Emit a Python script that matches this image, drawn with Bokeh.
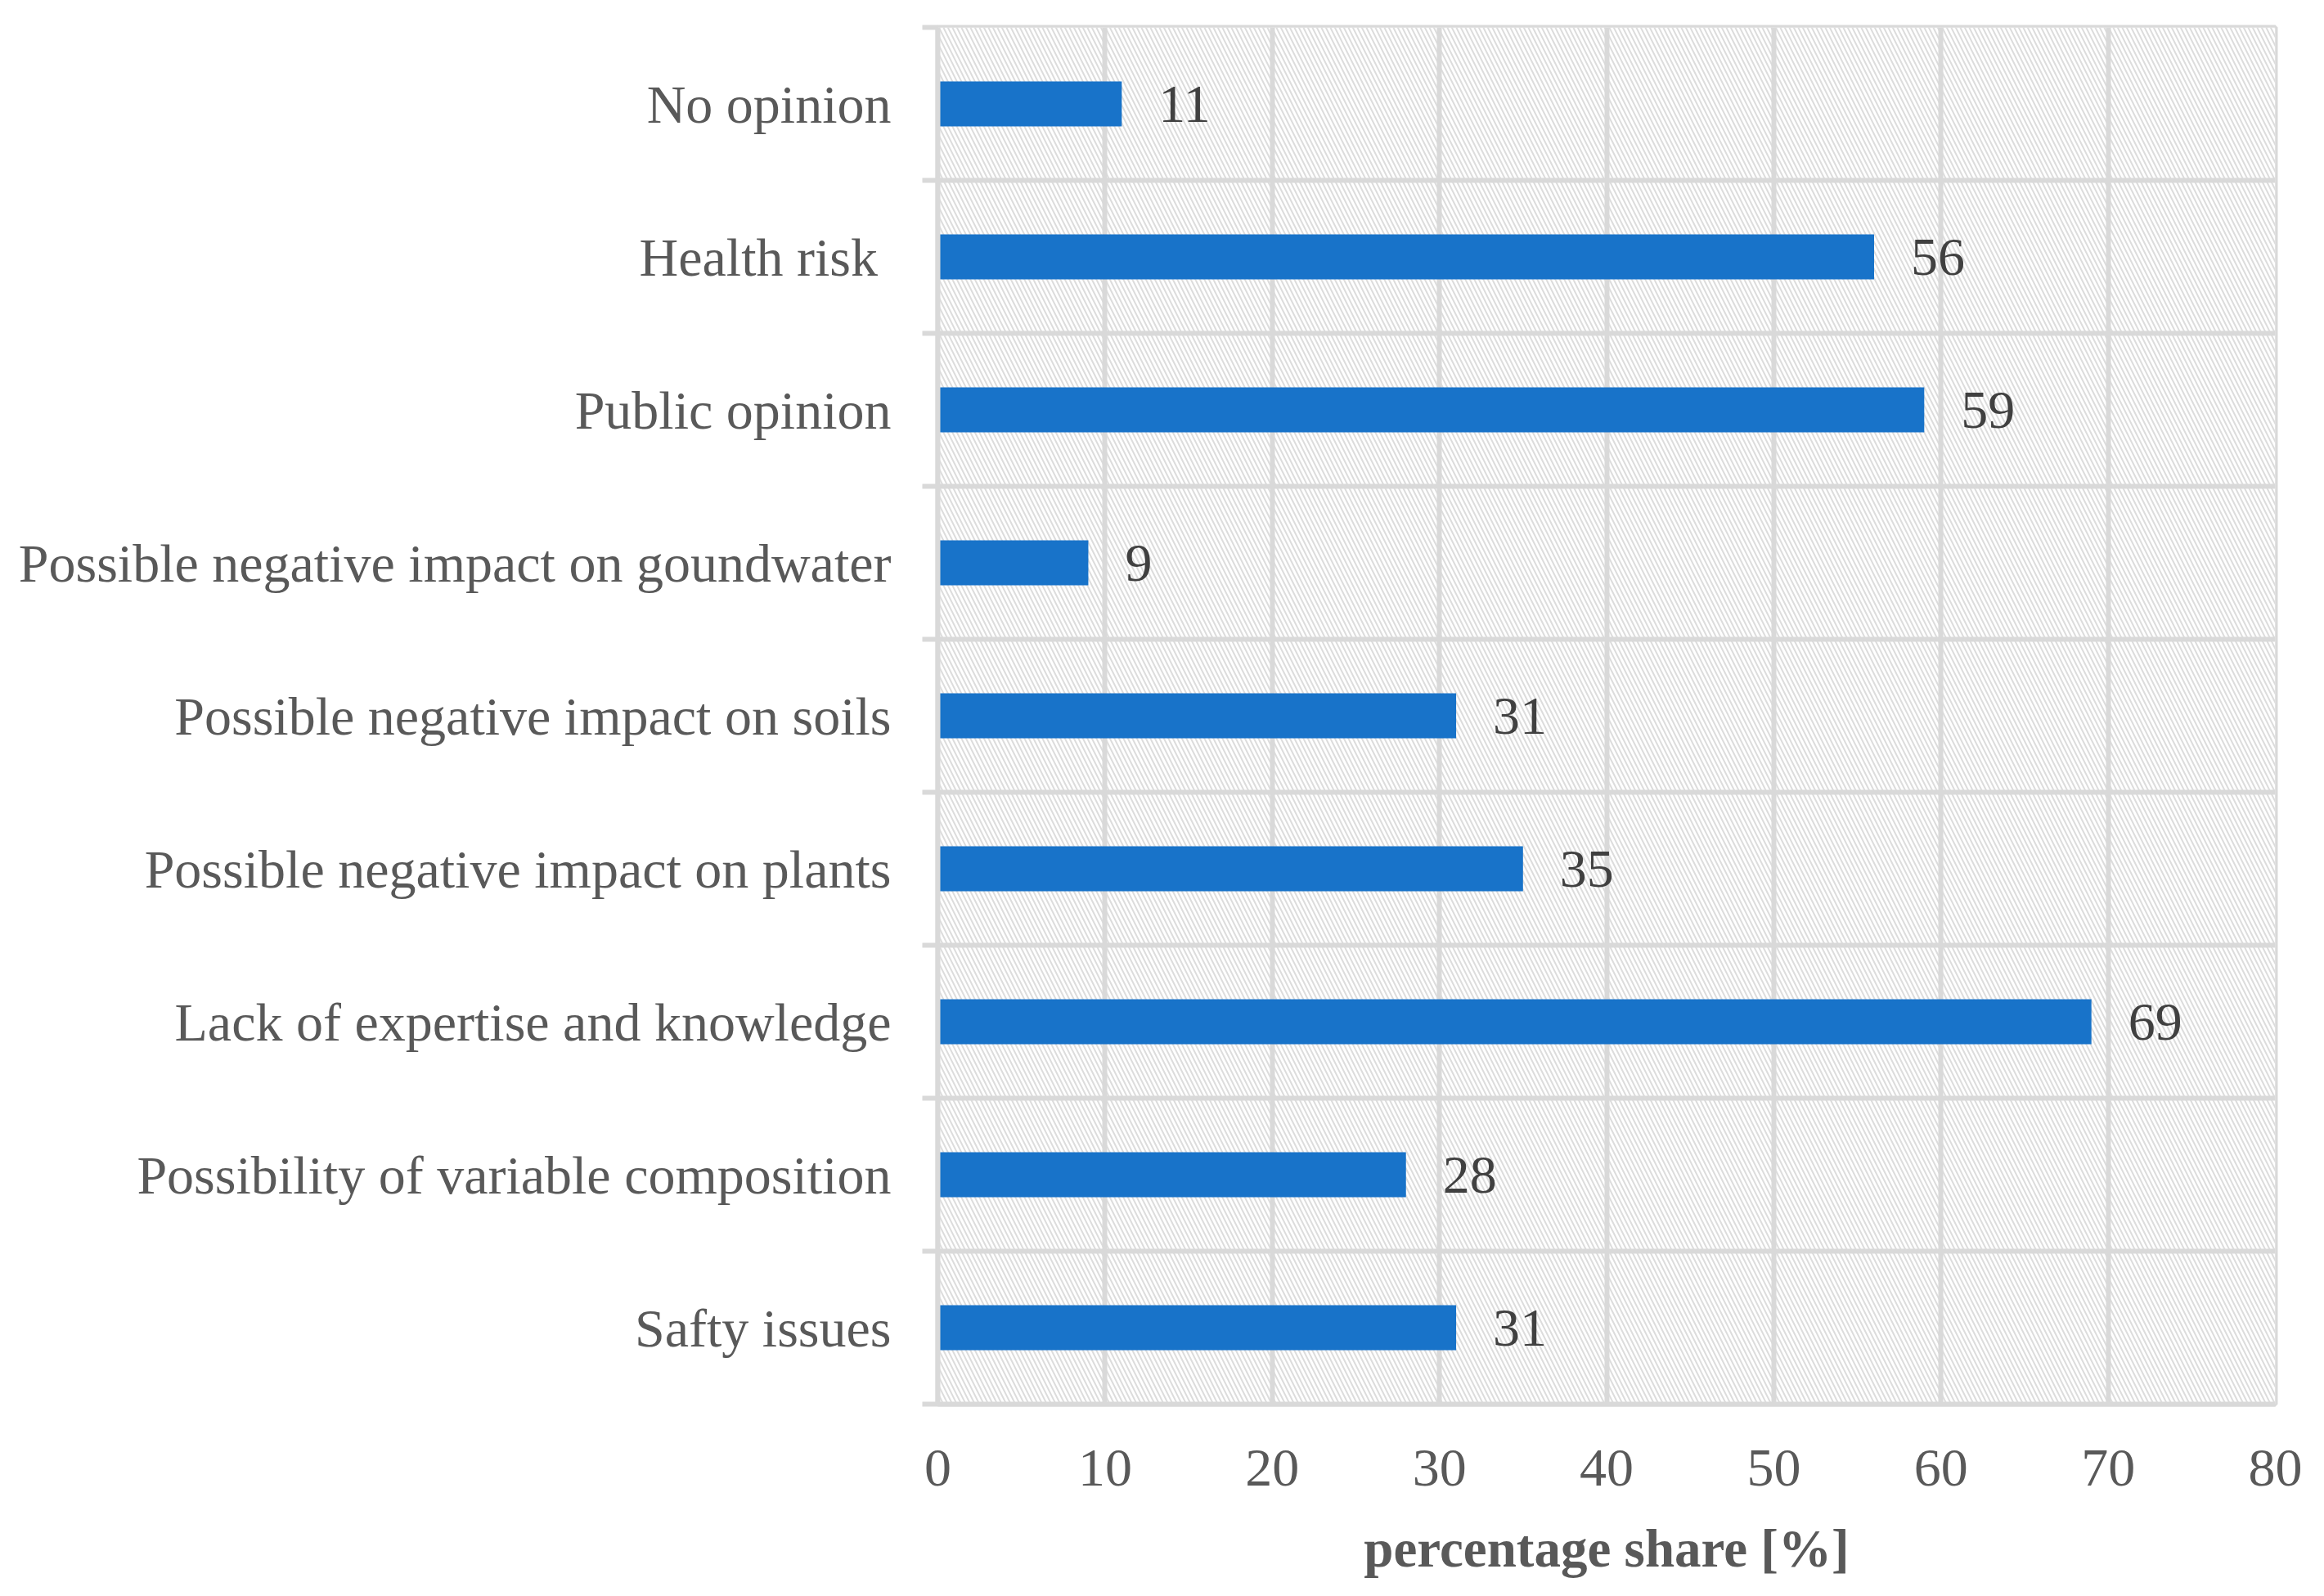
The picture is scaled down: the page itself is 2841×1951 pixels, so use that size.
from bokeh.plotting import figure
from bokeh.models import Range1d, FixedTicker, BoxAnnotation, ColumnDataSource, LabelSet
from bokeh.embed import file_html
from bokeh.resources import INLINE

# data (bottom to top)
categories = [
    "Safty issues",
    "Possibility of variable composition",
    "Lack of expertise and knowledge",
    "Possible negative impact on plants",
    "Possible negative impact on soils",
    "Possible negative impact on goundwater",
    "Public opinion",
    "Health risk ",
    "No opinion",
]
values = [31, 28, 69, 35, 31, 9, 59, 56, 11]
x_ticks = [0, 10, 20, 30, 40, 50, 60, 70, 80]
x_title = "percentage share [%]"

FONT = "Liberation Serif"
GRID = "#d9d9d9"
TXT = "#595959"

n = len(categories)
ypos = [i + 0.5 for i in range(n)]

p = figure(width=2825, height=1935, output_backend="svg", toolbar_location=None,
           x_range=Range1d(0, 80), y_range=Range1d(0, n),
           min_border_left=1146, min_border_right=44, min_border_top=33, min_border_bottom=219)

p.background_fill_color = "white"
p.border_fill_color = "white"
p.outline_line_color = GRID
p.outline_line_width = 6

# hatched background
p.add_layout(BoxAnnotation(fill_color="white", fill_alpha=1.0, line_color=None,
                           hatch_pattern="\\", hatch_color="#dcdcdc",
                           hatch_weight=2.0, hatch_scale=11, level="image"))

src = ColumnDataSource(dict(y=ypos, v=values, lab=[str(v) for v in values], cat=categories))
p.hbar(y="y", left=0, right="v", height=0.294, source=src,
       fill_color="#1873C9", line_color=None)

labels = LabelSet(x="v", y="y", text="lab", source=src, x_offset=45, y_offset=0,
                  text_font=FONT, text_font_size="66px", text_color="#404040",
                  text_baseline="middle", text_align="left")
p.add_layout(labels)

# grids
p.xgrid.ticker = FixedTicker(ticks=x_ticks)
p.xgrid.grid_line_color = GRID
p.xgrid.grid_line_width = 6
p.xgrid.level = "underlay"
p.ygrid.ticker = FixedTicker(ticks=list(range(n + 1)))
p.ygrid.grid_line_color = GRID
p.ygrid.grid_line_width = 6
p.ygrid.level = "underlay"

# x axis
xa = p.xaxis[0]
xa.ticker = FixedTicker(ticks=x_ticks)
xa.axis_line_color = GRID
xa.axis_line_width = 6
xa.major_tick_line_color = None
xa.major_tick_out = 0
xa.major_tick_in = 0
xa.minor_tick_line_color = None
xa.major_label_text_font = FONT
xa.major_label_text_font_size = "66px"
xa.major_label_text_color = TXT
xa.major_label_standoff = 56
xa.axis_label = x_title
xa.axis_label_text_font = FONT
xa.axis_label_text_font_size = "65px"
xa.axis_label_text_font_style = "bold"
xa.axis_label_text_color = TXT
xa.axis_label_standoff = 38

# y axis: labels at row centers, tick stubs at row boundaries
ya = p.yaxis[0]
ya.ticker = FixedTicker(ticks=ypos, minor_ticks=list(range(n + 1)))
ya.major_label_overrides = {y: c for y, c in zip(ypos, categories)}
ya.axis_line_color = GRID
ya.axis_line_width = 6
ya.major_tick_line_color = None
ya.major_tick_out = 0
ya.major_tick_in = 0
ya.minor_tick_line_color = GRID
ya.minor_tick_line_width = 6
ya.minor_tick_out = 19
ya.minor_tick_in = 0
ya.major_label_text_font = FONT
ya.major_label_text_font_size = "66px"
ya.major_label_text_color = TXT
ya.major_label_standoff = 38

open("out.html", "w").write(file_html(p, INLINE))
